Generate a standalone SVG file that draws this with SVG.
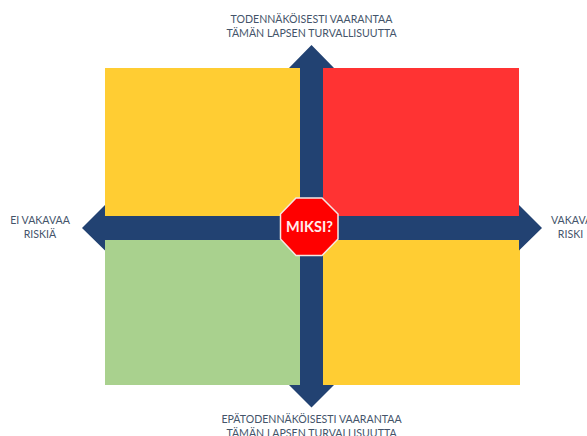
<svg xmlns="http://www.w3.org/2000/svg" width="587" height="436" viewBox="0 0 587 436">
<style>
.l{font-family:Lato,"Liberation Sans",sans-serif;font-size:10.6px;fill:#44546a;text-anchor:middle}
</style>
<rect width="587" height="436" fill="#fff"/>
<g id="quadrants">
<rect id="q-top-left" x="105" y="68" width="195" height="148" fill="#ffcd33"/>
<rect id="q-top-right" x="323" y="68" width="196" height="148" fill="#ff3333"/>
<rect id="q-bottom-left" x="105" y="240" width="195" height="145" fill="#a9d18e"/>
<rect id="q-bottom-right" x="323" y="240" width="197" height="145" fill="#ffcd33"/>
</g>
<g id="connectors" fill="#224272">
<polygon points="311.5,45 334,68 323,68 323,385 334,385 311.5,407.5 289,385 300,385 300,68 289,68"/>
<polygon points="82,228 105,205 105,216 519,216 519,205 542,228 519,250.500 519,240 105,240 105,250.500"/>
</g>
<g id="stop">
<polygon points="296,198 322,198 338,214 338,239 322,255.500 296,255.500 280.500,239 280.500,214" fill="#ff0000" stroke="#f4e9e4" stroke-width="1.500"/>
<text x="309.500" y="232" font-family="Lato,'Liberation Sans',sans-serif" font-size="14.500" font-weight="700" fill="#ffecec" text-anchor="middle">MIKSI?</text>
</g>
<g id="label-top"><text class="l" x="311.500" y="23">TODENNÄKÖISESTI VAARANTAA</text><text class="l" x="311.500" y="37">TÄMÄN LAPSEN TURVALLISUUTTA</text></g>
<g id="label-left"><text class="l" x="40" y="224">EI VAKAVAA</text><text class="l" x="40" y="238">RISKIÄ</text></g>
<g id="label-right"><text class="l" x="551" y="224" style="text-anchor:start">VAKAVAA</text><text class="l" x="570.500" y="238">RISKI</text></g>
<g id="label-bottom"><text class="l" x="311.500" y="423">EPÄTODENNÄKÖISESTI VAARANTAA</text><text class="l" x="311.500" y="437">TÄMÄN LAPSEN TURVALLISUUTTA</text></g>
</svg>
